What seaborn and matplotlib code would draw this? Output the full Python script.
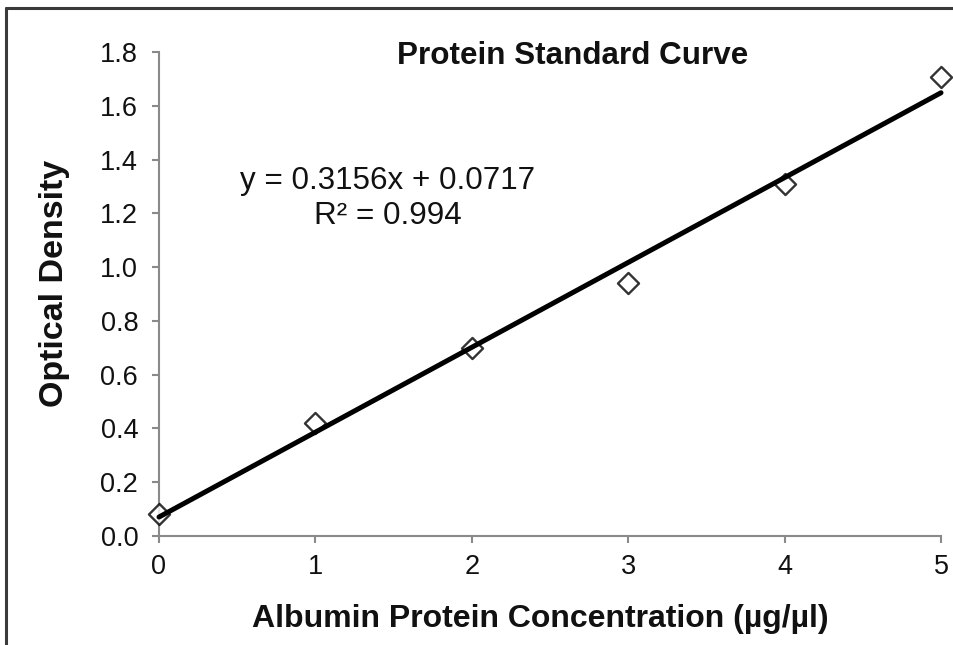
import matplotlib
matplotlib.use("Agg")
import matplotlib.pyplot as plt
from matplotlib.lines import Line2D
import seaborn as sns
import numpy as np
import pandas as pd

concentration = [0, 1, 2, 3, 4, 5]
optical_density = [0.08, 0.42, 0.70, 0.94, 1.31, 1.707]
yticks = [0.0, 0.2, 0.4, 0.6, 0.8, 1.0, 1.2, 1.4, 1.6, 1.8]
xticks = [0, 1, 2, 3, 4, 5]
title = "Protein Standard Curve"
xlabel = "Albumin Protein Concentration (µg/µl)"
ylabel = "Optical Density"
equation = "y = 0.3156x + 0.0717"
r2_text = "R² = 0.994"

sns.set_theme(style="white")
plt.rcParams["font.family"] = ["Liberation Sans", "DejaVu Sans"]

df = pd.DataFrame({"x": concentration, "y": optical_density})

W, H = 954, 645
fig = plt.figure(figsize=(W / 100, H / 100), dpi=100)
ax = fig.add_axes([159 / W, 1 - 536 / H, (941 - 159) / W, (536 - 52) / H])

sns.regplot(data=df, x="x", y="y", ax=ax, ci=None, truncate=True,
            marker="D",
            scatter_kws=dict(s=115, facecolors="white", edgecolors="black",
                             linewidths=1.7, zorder=3, clip_on=False),
            line_kws=dict(color="black", lw=3.6, zorder=4, clip_on=False))

ax.set_xlim(0, 5)
ax.set_ylim(0, 1.8)
ax.set_xticks(xticks)
ax.set_yticks(yticks)
ax.set_yticklabels([f"{v:.1f}" for v in yticks])
ax.set_xticklabels([str(v) for v in xticks])
for s in ["top", "right"]:
    ax.spines[s].set_visible(False)
for s in ["left", "bottom"]:
    ax.spines[s].set_color("#8a8a8a")
    ax.spines[s].set_linewidth(1.5)
ax.tick_params(axis="both", which="major", direction="out", length=5,
               width=1.5, color="#8a8a8a", labelsize=19.5, labelcolor="#111111",
               bottom=True, left=True)
ax.tick_params(axis="y", pad=10)
ax.tick_params(axis="x", pad=8)
ax.set_xlabel("")
ax.set_ylabel("")

fig.text(540 / W, 1 - 619 / H, xlabel, ha="center", va="center",
         fontsize=23, fontweight="bold", color="#111111")
fig.text(55 / W, 1 - 283 / H, ylabel, ha="center", va="center",
         rotation=90, fontsize=24.5, fontweight="bold", color="#111111")
fig.text(573 / W, 1 - 56 / H, title, ha="center", va="center",
         fontsize=22.6, fontweight="bold", color="#111111")
fig.text(388 / W, 1 - 181 / H, equation, ha="center", va="center",
         fontsize=22.6, color="#111111")
fig.text(388 / W, 1 - 216 / H, r2_text, ha="center", va="center",
         fontsize=22.6, color="#111111")

# figure frame (left and top edges only)
fig.add_artist(Line2D([6.5 / W, 6.5 / W], [0, 1 - 7.5 / H], transform=fig.transFigure,
                      color="#3a3a3a", lw=2.2))
fig.add_artist(Line2D([6.5 / W, 1], [1 - 7.5 / H, 1 - 7.5 / H], transform=fig.transFigure,
                      color="#3a3a3a", lw=2.2))

fig.savefig("out.png", dpi=100)
